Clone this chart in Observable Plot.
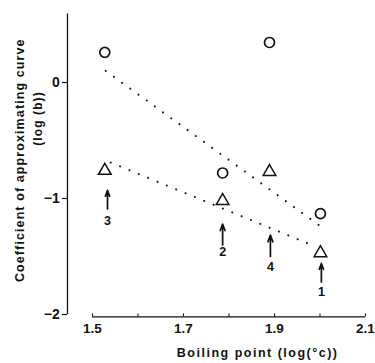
<!DOCTYPE html>
<html>
<head>
<meta charset="utf-8">
<script src="https://cdn.jsdelivr.net/npm/d3@7"></script>
<script src="https://cdn.jsdelivr.net/npm/@observablehq/plot@0.6"></script>
<style>
  html, body { margin: 0; padding: 0; background: #fff; }
  svg { display: block; }
</style>
</head>
<body>
<div id="chart"></div>
<script>
// Data
const pointX = [1.527, 1.786, 1.889, 2.001];
const circleY = [0.26, -0.78, 0.345, -1.13];
const triangleY = [-0.76, -1.02, -0.77, -1.47];

// fitted dotted lines (endpoints)
const circleFitX = [1.529, 2.005];
const circleFitY = [0.10, -1.25];
const triangleFitX = [1.54, 1.975];
const triangleFitY = [-0.69, -1.39];

// arrows
const arrowLabels = ["3", "2", "4", "1"];
const arrowX = [1.533, 1.786, 1.891, 2.003];
const arrowTip = [-0.93, -1.22, -1.315, -1.56];
const arrowTail = [-1.09, -1.40, -1.50, -1.72];
const arrowLabelY = [-1.19, -1.46, -1.59, -1.81];

// axes
const xTicks = [1.5, 1.7, 1.9, 2.1];
const xMinorTicks = [1.5, 1.6, 1.7, 1.8, 1.9, 2.0, 2.1];
const xTickLabels = ["1.5", "1.7", "1.9", "2.1"];
const yTicks = [0, -1, -2];
const yTickLabels = ["0", "\u22121", "\u22122"];
const xTitle = "Boiling point (log(\u00b0c))";
const yTitle1 = "Coefficient of approximating curve";
const yTitle2 = "(log (b))";

const circles = pointX.map((x, i) => ({x, y: circleY[i]}));
const triangles = pointX.map((x, i) => ({x, y: triangleY[i]}));
const fits = [
  {x1: circleFitX[0], y1: circleFitY[0], x2: circleFitX[1], y2: circleFitY[1]},
  {x1: triangleFitX[0], y1: triangleFitY[0], x2: triangleFitX[1], y2: triangleFitY[1]}
];
const arrows = arrowLabels.map((l, i) => ({label: l, x: arrowX[i], tip: arrowTip[i], tail: arrowTail[i], ly: arrowLabelY[i]}));

const yAxisX = 1.445;   // y axis line sits left of x-domain start
const xAxisY = -2.02;
const yTop = 0.59;

const font = "'Liberation Sans', Arial, Helvetica, sans-serif";

const chart = Plot.plot({
  width: 375,
  height: 363,
  marginLeft: 0, marginRight: 0, marginTop: 0, marginBottom: 0,
  x: {domain: [1.5, 2.1], range: [92, 365], axis: null},
  y: {domain: [-2, 0], range: [314, 82], axis: null},
  style: {fontFamily: font, background: "#fff", color: "#111"},
  marks: [
    // y axis line
    Plot.ruleX([yAxisX], {y1: -2, y2: yTop, stroke: "#111", strokeWidth: 1.3}),
    // y ticks
    Plot.ruleY(yTicks, {x1: 1.434, x2: yAxisX, stroke: "#111", strokeWidth: 1.2}),
    Plot.text(yTicks, {x: 1.428, y: d => d, text: (d, i) => yTickLabels[i], textAnchor: "end", fontSize: 14, fontWeight: "bold", fill: "#111"}),
    // x axis line
    Plot.ruleY([xAxisY], {x1: 1.5, x2: 2.1, stroke: "#111", strokeWidth: 1.3}),
    Plot.ruleX(xMinorTicks, {y1: xAxisY, y2: -1.995, stroke: "#111", strokeWidth: 1.1}),
    Plot.text(xTicks, {x: d => d, y: xAxisY, dy: 12, text: (d, i) => xTickLabels[i], fontSize: 13.5, fontWeight: "bold", fill: "#111"}),
    // axis titles
    Plot.text([xTitle], {x: 1.863, y: xAxisY, dy: 36, fontSize: 12.5, fontWeight: "bold", fill: "#111"}),
    Plot.text([yTitle1], {x: 1.445, y: -0.67, dx: -47, rotate: -90, fontSize: 12.5, fontWeight: "bold", fill: "#111"}),
    Plot.text([yTitle2], {x: 1.445, y: -0.31, dx: -29, rotate: -90, fontSize: 12, fontWeight: "bold", fill: "#111"}),
    // dotted fit lines
    Plot.link(fits, {x1: "x1", y1: "y1", x2: "x2", y2: "y2", stroke: "#111", strokeWidth: 2, strokeDasharray: "0.1,10", strokeLinecap: "round"}),
    // symbols
    Plot.dot(circles, {x: "x", y: "y", r: 5, stroke: "#111", strokeWidth: 1.7, fill: "none"}),
    Plot.dot(triangles, {x: "x", y: "y", symbol: "triangle", r: 4.7, stroke: "#111", strokeWidth: 1.5, fill: "none"}),
    // arrows
    Plot.arrow(arrows, {x1: "x", y1: "tail", x2: "x", y2: "tip", stroke: "#111", strokeWidth: 1.7, headLength: 7, headAngle: 40}),
    Plot.text(arrows, {x: "x", y: "ly", text: "label", fontSize: 12.5, fontWeight: "bold", fill: "#111"})
  ]
});
chart.querySelectorAll("text").forEach(t => {
  const s = t.textContent;
  if (s.includes("Coefficient") || s.includes("(log")) t.style.letterSpacing = "1.1px";
  if (s.includes("Boiling")) t.style.letterSpacing = "1.5px";
});
document.getElementById("chart").appendChild(chart);
</script>
</body>
</html>
